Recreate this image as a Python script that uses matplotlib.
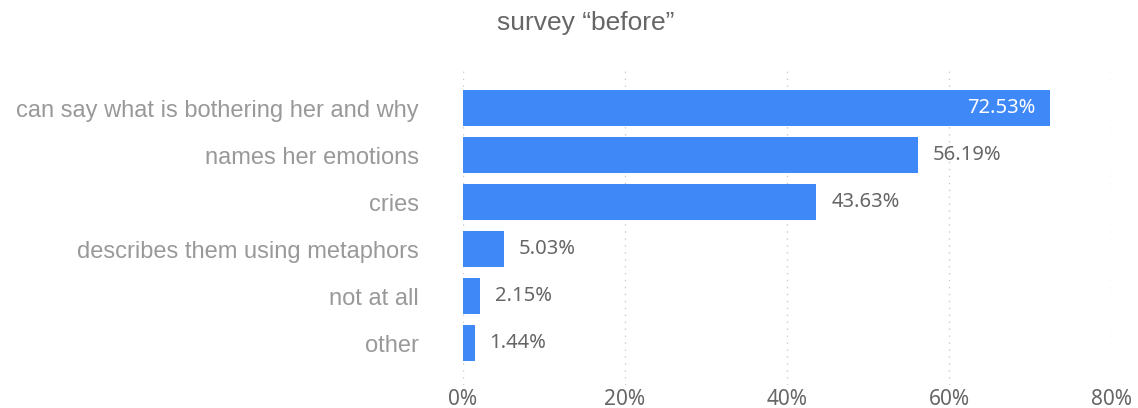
import matplotlib.pyplot as plt

# survey answers and shares (%)
categories = [
    "can say what is bothering her and why",
    "names her emotions",
    "cries",
    "describes them using metaphors",
    "not at all",
    "other",
]
values = [72.53, 56.19, 43.63, 5.03, 2.15, 1.44]
ticks = [0, 20, 40, 60, 80]

BAR_COLOR = "#3f88f7"
NUM_FONT = "Noto Sans"
LABEL_FONT = "Liberation Sans"

fig = plt.figure(figsize=(11.38, 4.08), dpi=100)
ax = fig.add_axes([463 / 1138, 23 / 408, 648 / 1138, 315 / 408])

pos = list(range(len(categories)))
ax.barh(pos, values, height=0.77, color=BAR_COLOR, zorder=2)

ax.set_xlim(0, 80)
ax.set_ylim(5.89, -0.81)

# value labels, the widest bar gets its label inside
for i, v in enumerate(values):
    if v > 65:
        ax.text(v - 1.85, i, "%.2f%%" % v, ha="right", va="center",
                color="white", fontsize=14.5, family=NUM_FONT, zorder=3)
    else:
        ax.text(v + 1.85, i, "%.2f%%" % v, ha="left", va="center",
                color="#666666", fontsize=14.5, family=NUM_FONT, zorder=3)

ax.set_xticks(ticks)
ax.set_xticklabels(["%d%%" % t for t in ticks], family=NUM_FONT,
                   fontsize=15, color="#666666")
ax.set_yticks(pos)
ax.set_yticklabels(categories, family=LABEL_FONT, fontsize=17,
                   color="#999999")
ax.tick_params(axis="both", length=0)
ax.tick_params(axis="y", pad=32)
ax.tick_params(axis="x", pad=3)

ax.grid(axis="x", linestyle=(0, (1, 4)), color="#cccccc", linewidth=1,
        zorder=0)
for s in ax.spines.values():
    s.set_visible(False)

fig.text(586 / 1138, 1 - 23 / 408, "survey \u201cbefore\u201d", ha="center",
         va="center", family=LABEL_FONT, fontsize=19, color="#666666")

fig.savefig("out.png", dpi=100)
